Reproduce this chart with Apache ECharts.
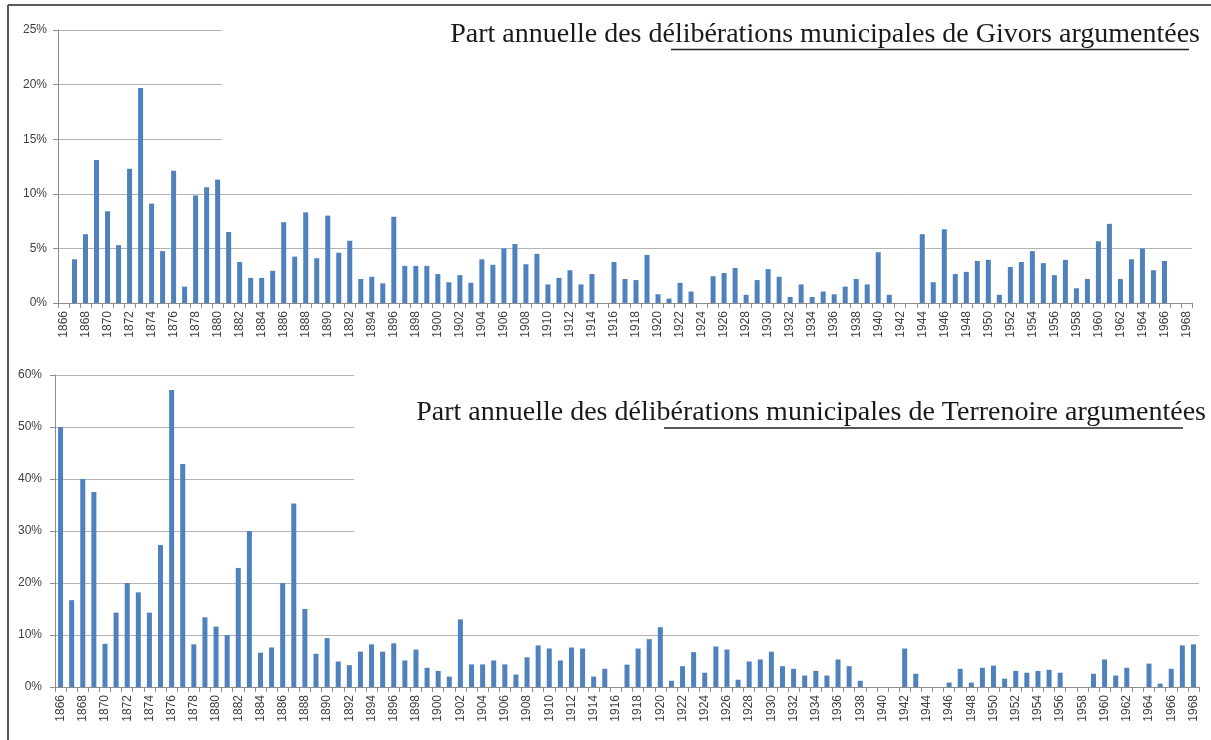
<!DOCTYPE html>
<html>
<head>
<meta charset="utf-8">
<script src="https://cdn.jsdelivr.net/npm/echarts@6/dist/echarts.min.js"></script>
<style>
  html, body { margin: 0; padding: 0; background: #ffffff; }
  #chart { width: 1211px; height: 740px; }
</style>
</head>
<body>
<div id="chart"></div>
<script>
// années 1866 -> 1968
const years = Array.from({ length: 103 }, (_, i) => String(1866 + i));

// part argumentée (%) — Givors
const givors = [
  0, 4.0, 6.3, 13.1, 8.4, 5.3, 12.3, 19.7, 9.1, 4.75,      // 1866-1875
  12.1, 1.5, 9.85, 10.6, 11.3, 6.5, 3.75, 2.3, 2.3, 2.95,  // 1876-1885
  7.4, 4.25, 8.3, 4.1, 8.0, 4.6, 5.7, 2.2, 2.4, 1.8,       // 1886-1895
  7.9, 3.4, 3.4, 3.4, 2.65, 1.9, 2.55, 1.85, 4.0, 3.5,     // 1896-1905
  5.0, 5.4, 3.55, 4.5, 1.7, 2.3, 3.0, 1.7, 2.65, 0,        // 1906-1915
  3.75, 2.2, 2.1, 4.4, 0.8, 0.4, 1.85, 1.05, 0, 2.45,      // 1916-1925
  2.75, 3.2, 0.75, 2.1, 3.1, 2.4, 0.55, 1.7, 0.55, 1.05,   // 1926-1935
  0.8, 1.5, 2.2, 1.7, 4.65, 0.75, 0, 0, 6.3, 1.9,          // 1936-1945
  6.75, 2.65, 2.85, 3.85, 3.95, 0.75, 3.3, 3.75, 4.75, 3.65, // 1946-1955
  2.55, 3.95, 1.35, 2.2, 5.65, 7.25, 2.2, 4.0, 5.0, 3.0,   // 1956-1965
  3.85, 0, 0                                               // 1966-1968
];

// part argumentée (%) — Terrenoire
const terrenoire = [
  50, 16.7, 40, 37.5, 8.3, 14.3, 20, 18.2, 14.3, 27.3,     // 1866-1875
  57.1, 42.9, 8.2, 13.4, 11.6, 10, 22.9, 30, 6.6, 7.6,     // 1876-1885
  20, 35.3, 15, 6.4, 9.4, 4.9, 4.2, 6.8, 8.2, 6.8,         // 1886-1895
  8.4, 5.1, 7.2, 3.7, 3.1, 2.0, 13.0, 4.35, 4.35, 5.1,     // 1896-1905
  4.35, 2.4, 5.7, 8.0, 7.4, 5.1, 7.6, 7.4, 2.0, 3.5,       // 1906-1915
  0, 4.3, 7.4, 9.2, 11.5, 1.2, 4.0, 6.7, 2.75, 7.8,        // 1916-1925
  7.2, 1.4, 4.9, 5.3, 6.8, 4.0, 3.5, 2.2, 3.1, 2.2,        // 1926-1935
  5.3, 4.0, 1.2, 0, 0, 0, 7.4, 2.55, 0, 0,                 // 1936-1945
  0.85, 3.5, 0.85, 3.7, 4.1, 1.6, 3.1, 2.75, 3.1, 3.3,     // 1946-1955
  2.75, 0, 0, 2.55, 5.3, 2.2, 3.7, 0, 4.5, 0.65,           // 1956-1965
  3.5, 8.0, 8.2                                            // 1966-1968
];

const titleGivors = "Part annuelle des délibérations municipales de Givors argumentées";
const titleTerrenoire = "Part annuelle des délibérations municipales de Terrenoire argumentées";

const BLUE = '#4f81bd';
const LABEL = '#404040';
const GRID = '#b3b3b3';
const AXIS = '#8c8c8c';

const chart = echarts.init(document.getElementById('chart'), null, { renderer: 'canvas' });

function xAxisFor(gridIndex) {
  return {
    type: 'category',
    gridIndex: gridIndex,
    data: years,
    boundaryGap: true,
    axisLine: { lineStyle: { color: AXIS, width: 1 } },
    axisTick: { show: true, interval: 0, length: 5, lineStyle: { color: AXIS } },
    axisLabel: {
      interval: 1,
      rotate: 90,
      margin: 8,
      fontSize: 12,
      fontFamily: 'Liberation Sans',
      color: LABEL
    },
    splitLine: { show: false }
  };
}

function yAxisFor(gridIndex, max, margin) {
  return {
    type: 'value',
    gridIndex: gridIndex,
    min: 0,
    max: max,
    interval: max === 25 ? 5 : 10,
    axisLine: { show: true, lineStyle: { color: AXIS } },
    axisTick: { show: true, length: 5, lineStyle: { color: AXIS } },
    axisLabel: {
      formatter: '{value}%',
      margin: margin,
      fontSize: 12,
      fontFamily: 'Liberation Sans',
      color: LABEL
    },
    splitLine: { show: true, lineStyle: { color: GRID, width: 1 } }
  };
}

const titleFont = '28px "Liberation Serif"';

const option = {
  backgroundColor: '#ffffff',
  animation: false,
  grid: [
    { left: 58, right: 19, top: 30, bottom: 437 },
    { left: 55, right: 12, top: 375, bottom: 53 }
  ],
  xAxis: [xAxisFor(0), xAxisFor(1)],
  yAxis: [yAxisFor(0, 25, 11), yAxisFor(1, 60, 13)],
  series: [
    {
      type: 'bar', name: 'Givors', xAxisIndex: 0, yAxisIndex: 0,
      data: givors, barWidth: 5, itemStyle: { color: BLUE }
    },
    {
      type: 'bar', name: 'Terrenoire', xAxisIndex: 1, yAxisIndex: 1,
      data: terrenoire, barWidth: 5, itemStyle: { color: BLUE }
    }
  ],
  graphic: [
    // cadre (haut et gauche)
    { type: 'line', z: 200, shape: { x1: 8, y1: 5, x2: 1211, y2: 5 }, style: { stroke: '#595959', lineWidth: 2 } },
    { type: 'line', z: 200, shape: { x1: 8, y1: 5, x2: 8, y2: 740 }, style: { stroke: '#595959', lineWidth: 2 } },
    // zones de titre (masquent le quadrillage)
    { type: 'rect', z: 100, shape: { x: 222, y: 14, width: 985, height: 156 }, style: { fill: '#ffffff' } },
    { type: 'rect', z: 100, shape: { x: 354, y: 368, width: 855, height: 192 }, style: { fill: '#ffffff' } },
    {
      type: 'text', z: 110, x: 1200, y: 35,
      style: { text: titleGivors, font: titleFont, fill: '#1a1a1a', align: 'right', verticalAlign: 'middle' }
    },
    { type: 'line', z: 110, shape: { x1: 671, y1: 49.5, x2: 1189, y2: 49.5 }, style: { stroke: '#222', lineWidth: 1.5 } },
    {
      type: 'text', z: 110, x: 1206, y: 413,
      style: { text: titleTerrenoire, font: titleFont, fill: '#1a1a1a', align: 'right', verticalAlign: 'middle' }
    },
    { type: 'line', z: 110, shape: { x1: 664, y1: 428, x2: 1183, y2: 428 }, style: { stroke: '#222', lineWidth: 1.5 } }
  ]
};

chart.setOption(option);
</script>
</body>
</html>
